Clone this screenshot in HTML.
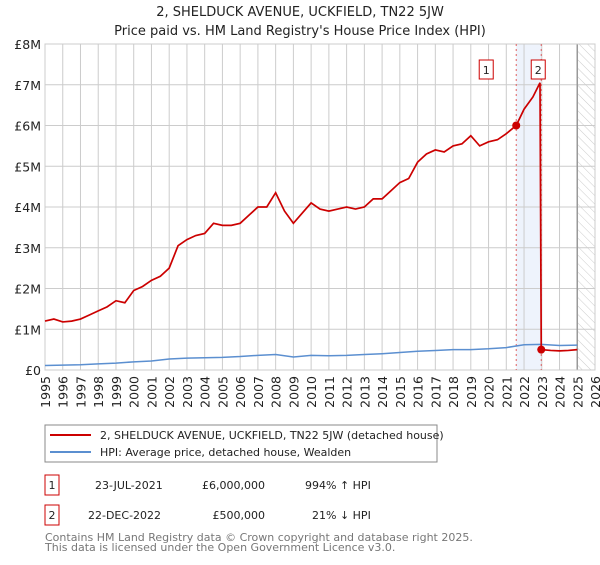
<!DOCTYPE html>
<html><head><meta charset="utf-8"><style>
body{margin:0;background:#fff;font-family:"Liberation Sans","DejaVu Sans",sans-serif;}
svg text{font-family:"DejaVu Sans","Liberation Sans",sans-serif;}
</style></head><body>
<svg width="600" height="560">
<defs><pattern id="hatch" width="6" height="6" patternUnits="userSpaceOnUse" patternTransform="rotate(-45)"><line x1="0" y1="0" x2="0" y2="6" stroke="#ccc" stroke-width="1"/></pattern></defs>
<text x="300" y="16" text-anchor="middle" font-size="13" fill="#222">2, SHELDUCK AVENUE, UCKFIELD, TN22 5JW</text>
<text x="300" y="35" text-anchor="middle" font-size="13" fill="#222">Price paid vs. HM Land Registry's House Price Index (HPI)</text>
<g id="plot"></g>
<rect x="45" y="425" width="392" height="37" fill="#fff" stroke="#888"/>
<line x1="50" y1="435" x2="91" y2="435" stroke="#cc0000" stroke-width="2"/>
<text x="100" y="439" font-size="11" fill="#222">2, SHELDUCK AVENUE, UCKFIELD, TN22 5JW (detached house)</text>
<line x1="50" y1="452" x2="91" y2="452" stroke="#5b8fd0" stroke-width="2"/>
<text x="100" y="456" font-size="11" fill="#222">HPI: Average price, detached house, Wealden</text>
<g font-size="11" fill="#222">
<rect x="45" y="475" width="14" height="20" fill="#fff" stroke="#cc0000"/>
<text x="52" y="489" text-anchor="middle">1</text>
<text x="95" y="489">23-JUL-2021</text>
<text x="265" y="489" text-anchor="end">£6,000,000</text>
<text x="305" y="489">994% ↑ HPI</text>
<rect x="45" y="505" width="14" height="20" fill="#fff" stroke="#cc0000"/>
<text x="52" y="519" text-anchor="middle">2</text>
<text x="88" y="519">22-DEC-2022</text>
<text x="265" y="519" text-anchor="end">£500,000</text>
<text x="312" y="519">21% ↓ HPI</text>
</g>
<text x="45" y="541" font-size="11" fill="#777">Contains HM Land Registry data © Crown copyright and database right 2025.</text>
<text x="45" y="551" font-size="11" fill="#777">This data is licensed under the Open Government Licence v3.0.</text>
</svg>
<script>
const redYears=[1995,1995.5,1996,1996.5,1997,1997.5,1998,1998.5,1999,1999.5,2000,2000.5,2001,2001.5,2002,2002.5,2003,2003.5,2004,2004.5,2005,2005.5,2006,2006.5,2007,2007.5,2008,2008.5,2009,2009.5,2010,2010.5,2011,2011.5,2012,2012.5,2013,2013.5,2014,2014.5,2015,2015.5,2016,2016.5,2017,2017.5,2018,2018.5,2019,2019.5,2020,2020.5,2021,2021.56,2022,2022.5,2022.9,2022.97,2023.5,2024,2024.5,2025];
const redValues=[1.2,1.25,1.18,1.2,1.25,1.35,1.45,1.55,1.7,1.65,1.95,2.05,2.2,2.3,2.5,3.05,3.2,3.3,3.35,3.6,3.55,3.55,3.6,3.8,4.0,4.0,4.35,3.9,3.6,3.85,4.1,3.95,3.9,3.95,4.0,3.95,4.0,4.2,4.2,4.4,4.6,4.7,5.1,5.3,5.4,5.35,5.5,5.55,5.75,5.5,5.6,5.65,5.8,6.0,6.4,6.7,7.05,0.5,0.48,0.47,0.48,0.5];
const hpiYears=[1995,1996,1997,1998,1999,2000,2001,2002,2003,2004,2005,2006,2007,2008,2009,2010,2011,2012,2013,2014,2015,2016,2017,2018,2019,2020,2021,2022,2022.97,2024,2025];
const hpiValues=[0.11,0.12,0.13,0.15,0.17,0.2,0.22,0.27,0.29,0.3,0.31,0.33,0.36,0.38,0.32,0.36,0.35,0.36,0.38,0.4,0.43,0.46,0.48,0.5,0.5,0.52,0.55,0.62,0.63,0.6,0.61];
const sales=[[2021.56,6.0],[2022.97,0.5]];
const yTicks=[0,1,2,3,4,5,6,7,8];
const yLabels=["£0","£1M","£2M","£3M","£4M","£5M","£6M","£7M","£8M"];
const xTicks=[];for(let y=1995;y<=2026;y++)xTicks.push(y);
const X0=45,X1=595,Y0=370,Y1=44;
const xs=v=>X0+(v-1995)/31*(X1-X0);
const ys=v=>Y0-v/8*(Y0-Y1);
const g=document.getElementById('plot');const NS='http://www.w3.org/2000/svg';
function mk(t,a){const e=document.createElementNS(NS,t);for(const k in a)e.setAttribute(k,a[k]);g.appendChild(e);return e;}
let e=mk('rect',{x:xs(2021.56),y:Y1,width:xs(2022.97)-xs(2021.56),height:Y0-Y1,fill:'#eef3fc'});


e=mk('rect',{x:xs(2025),y:Y1,width:X1-xs(2025),height:Y0-Y1,fill:'url(#hatch)'});


yTicks.forEach((t,i)=>{
 e=mk('line',{x1:X0,x2:X1,y1:ys(t),y2:ys(t),stroke:'#ccc'});
 
 
 e=mk('text',{x:X0-4,y:ys(t)+5,'text-anchor':'end','font-size':'12.5',fill:'#222'});e.textContent=yLabels[i];
 
 
});
xTicks.forEach(t=>{
 e=mk('line',{x1:xs(t),x2:xs(t),y1:Y1,y2:Y0,stroke:'#ccc'});
 
 
 e=mk('text',{transform:`translate(${xs(t)+5},${Y0+6}) rotate(-90)`,'text-anchor':'end','font-size':'12.5',fill:'#222'});e.textContent=t;
 
 
});
e=mk('line',{x1:xs(2025),x2:xs(2025),y1:Y1,y2:Y0,stroke:'#999','stroke-width':1.5});


e=mk('rect',{x:X0,y:Y1,width:X1-X0,height:Y0-Y1,fill:'none',stroke:'#ccc'});


sales.forEach((s,i)=>{
 e=mk('line',{x1:xs(s[0]),x2:xs(s[0]),y1:Y1,y2:Y0,stroke:'#e06060','stroke-dasharray':'2,3'});
 
 
});
e=mk('polyline',{points:hpiYears.map((y,i)=>xs(y)+','+ys(hpiValues[i])).join(' '),fill:'none',stroke:'#5b8fd0','stroke-width':1.5});


e=mk('polyline',{points:redYears.map((y,i)=>xs(y)+','+ys(redValues[i])).join(' '),fill:'none',stroke:'#cc0000','stroke-width':1.7});


sales.forEach((s,i)=>{
 e=mk('circle',{cx:xs(s[0]),cy:ys(s[1]),r:4,fill:'#cc0000'});
 
 
 const bx=i==0?xs(s[0])-37:xs(s[0])-10;
 e=mk('rect',{x:bx,y:60,width:14,height:19,fill:'#fff',stroke:'#cc0000'});
 
 
 e=mk('text',{x:bx+7,y:74,'text-anchor':'middle','font-size':'11',fill:'#222'});e.textContent=String(i+1);
 
 
});
</script>
</body></html>
